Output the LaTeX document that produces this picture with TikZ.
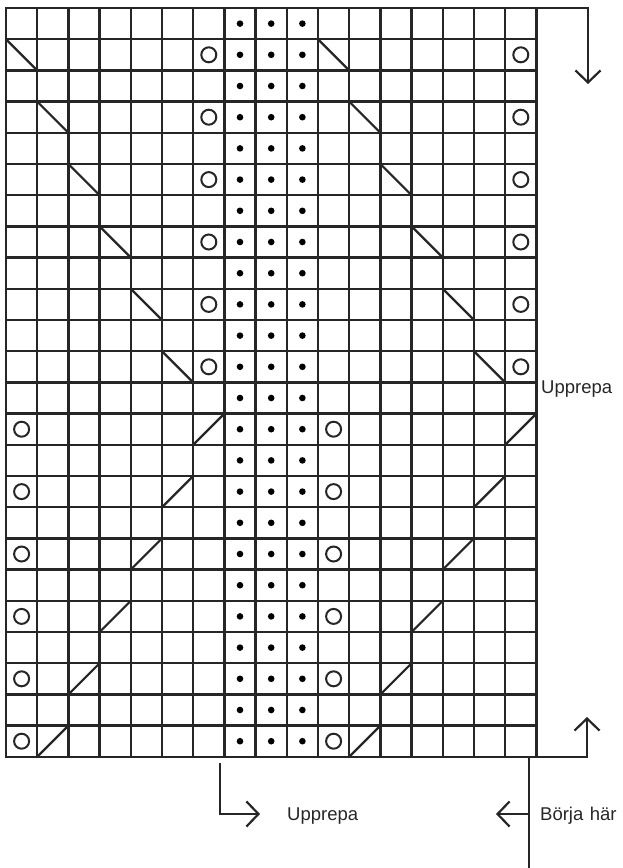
\documentclass[tikz,border=0pt]{standalone}
\usepackage{fontspec}
\setmainfont{Liberation Sans}
\usetikzlibrary{arrows.meta}
\begin{document}
\begin{tikzpicture}[x=1pt,y=-1pt,
  gridline/.style={line width=2.4pt, line cap=rect, draw=black!85},
  diag/.style={line width=2.2pt, draw=black!85},
  yo/.style={line width=2pt, draw=black!85},
  purl/.style={fill=black},
  plainline/.style={line width=2.2pt, draw=black!85},
  pointer/.style={line width=2.2pt, draw=black!85, -{Straight Barb[length=12pt,width=25pt]}},
  lbl/.style={anchor=base west, inner sep=0pt, text=black!85, font=\fontsize{18.5}{20}\selectfont}]
\useasboundingbox (0,0) rectangle (622,868);
\def\s{31.2}
\def\ox{6}
\def\oy{8}
% grid
\foreach \i in {0,...,17} \draw[gridline] ({\ox+\i*\s},\oy) -- ({\ox+\i*\s},{\oy+24*\s});
\foreach \j in {0,...,24} \draw[gridline] (\ox,{\oy+\j*\s}) -- ({\ox+17*\s},{\oy+\j*\s});
% purl dots
\foreach \r in {0,...,23} \foreach \c in {7,8,9}
  \fill[purl] ({\ox+(\c+0.5)*\s},{\oy+(\r+0.5)*\s}) circle[radius=3.3pt];
% upper half
\foreach \k in {0,...,5} {
  \pgfmathtruncatemacro{\r}{2*\k+1}
  \foreach \c in {6,16}
    \draw[yo] ({\ox+(\c+0.5)*\s},{\oy+(\r+0.5)*\s}) circle[radius=7.5pt];
  \pgfmathtruncatemacro{\ca}{\k}
  \pgfmathtruncatemacro{\cb}{\k+10}
  \foreach \c in {\ca,\cb}
    \draw[diag] ({\ox+\c*\s},{\oy+\r*\s}) -- ({\ox+(\c+1)*\s},{\oy+(\r+1)*\s});
}
% lower half
\foreach \k in {0,...,5} {
  \pgfmathtruncatemacro{\r}{13+2*\k}
  \foreach \c in {0,10}
    \draw[yo] ({\ox+(\c+0.5)*\s},{\oy+(\r+0.5)*\s}) circle[radius=7.5pt];
  \pgfmathtruncatemacro{\ca}{6-\k}
  \pgfmathtruncatemacro{\cb}{16-\k}
  \foreach \c in {\ca,\cb}
    \draw[diag] ({\ox+\c*\s},{\oy+(\r+1)*\s}) -- ({\ox+(\c+1)*\s},{\oy+\r*\s});
}
% connectors
\coordinate (gTR) at ({\ox+17*\s},\oy);
\coordinate (topbend) at (588,\oy);
\coordinate (toptip) at (588,84);
\draw[pointer] (gTR) -- (topbend) -- (toptip);
\coordinate (gBR) at ({\ox+17*\s},{\oy+24*\s});
\coordinate (botbend) at (587,{\oy+24*\s});
\coordinate (bottip) at (587,717);
\draw[pointer] (gBR) -- (botbend) -- (bottip);
\coordinate (lstart) at (220,763);
\coordinate (lbend) at (220,814);
\coordinate (ltip) at (260,814);
\draw[pointer] (lstart) -- (lbend) -- (ltip);
\coordinate (vtop) at (529,758);
\coordinate (vbot) at (529,868);
\coordinate (vmid) at (529,814);
\coordinate (btip) at (496,814);
\draw[plainline] (vtop) -- (vbot);
\draw[pointer] (vmid) -- (btip);
% labels
\node[lbl] (rep1) at (541,393) {Upprepa};
\node[lbl] (rep2) at (287,820) {Upprepa};
\node[lbl] (start) at (540,820) {Börja\hspace{0.35em}här};
\end{tikzpicture}
\end{document}
